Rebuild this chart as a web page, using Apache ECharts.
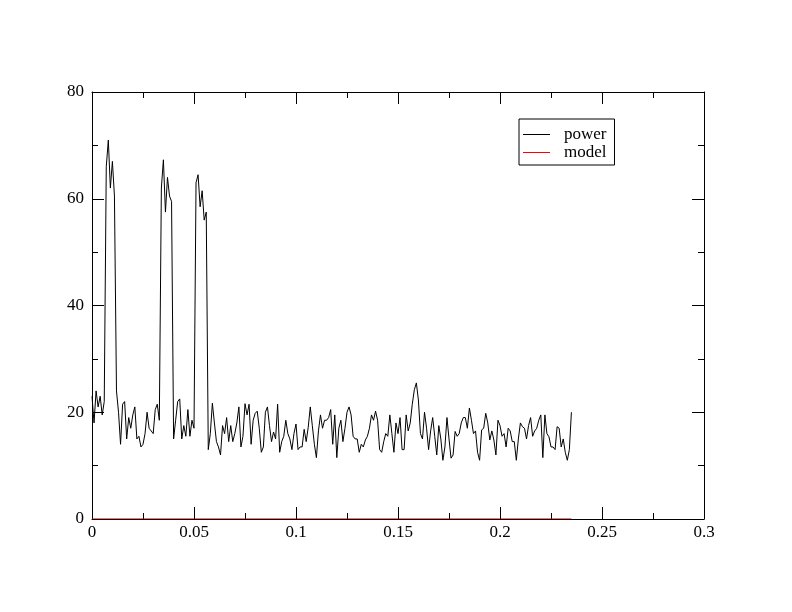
<!DOCTYPE html>
<html>
<head>
<meta charset="utf-8">
<script src="https://cdn.jsdelivr.net/npm/echarts@6/dist/echarts.min.js"></script>
<style>html,body{margin:0;padding:0;background:#fff}#c{width:792px;height:612px}</style>
</head>
<body>
<div id="c"></div>
<script>
// frequency grid step of the power spectrum
const freqStep = 0.001;
// power values, one per frequency step from 0 to 0.235
const powerValues = [
  23, 18, 24, 21, 23, 19.5, 22,
  66, 71, 62, 67, 60.5, 24,
  20, 14, 21.5, 22, 15, 19, 17, 19.5, 21, 15, 15.5, 13.5, 14, 16, 20, 17,
  16.5, 16, 20.5, 21.5, 18.5,
  62, 67.3, 57.5, 64, 60.5, 59.5,
  15, 18.5, 22, 22.5, 15, 17.5, 15.5, 20.5, 15.5, 18.5, 17,
  63, 64.5, 58.5, 61.5, 56, 57.5,
  13, 16, 21.7, 18, 14.5, 13.5, 12, 17.5, 16, 19, 14.5, 17.5, 14.5, 16, 18, 21, 13.5, 15.5, 21.6, 19.5, 21.5, 14, 18.5, 19.8, 20.2, 17, 12.5, 13.5, 20,
  21, 17.5, 14.5, 16.3, 15, 21.5, 12.5, 14.5, 15.5, 18.5, 16, 15, 13, 16, 17.8, 13, 13.5, 13.5, 16.8, 14.5, 17.2, 21, 17.5, 14, 11.5, 16.5, 19.5, 17, 18.5,
  18.5, 19, 20.5, 14, 19.5, 11.5, 17, 18.5, 14.5, 17, 20, 21, 19.5, 15.5, 15, 15, 12.5, 14, 13.5, 14.8, 15.5, 17, 19.5, 18.5, 20.2, 18.5, 13, 12.5, 14.5, 16,
  15.5, 19.5, 16, 12.5, 18, 16, 19, 13, 13, 19.5, 16.5, 18, 21.5, 24.2, 25.5, 22.3, 16, 15, 20, 17, 13, 16.5, 19, 15.5, 12, 17.5, 15, 11,
  13.5, 19, 15, 11.4, 12, 16.4, 15.5, 16, 18, 19, 19, 17, 20.8, 18.5, 16, 16.5, 12.5, 11, 16.7, 17, 19.8, 18, 14.8, 16.5, 14.8, 12, 18.5, 17.5, 15.5, 16,
  13.5, 17, 16.5, 14.5, 14.5, 11, 15, 18, 17.3, 17, 15, 17.5, 19, 15.5, 16.5, 17, 18.5, 19.5, 11.5, 19.5, 16, 15.4, 13.5, 13.5, 13, 17.3, 17, 13.5, 15, 12.5, 11, 13, 20
];
// model line (flat at zero across the data range)
const modelX = [0, 0.235];
const modelY = [0, 0];
// axis ranges / ticks
const xMin = 0, xMax = 0.3, xInterval = 0.05;
const yMin = 0, yMax = 80, yInterval = 20;

const powerData = powerValues.map((v, i) => [+(i * freqStep).toFixed(4), v]);
const modelData = modelX.map((x, i) => [x, modelY[i]]);

const font = 'Liberation Serif, Times New Roman, serif';
const axisCommon = {
  axisLine: { show: true, onZero: false, lineStyle: { color: '#000', width: 1 } },
  axisTick: { show: true, inside: true, length: 12, lineStyle: { color: '#000', width: 1 } },
  minorTick: { show: true, splitNumber: 2, length: 6, lineStyle: { color: '#000', width: 1 } },
  splitLine: { show: false },
  minorSplitLine: { show: false }
};

const chart = echarts.init(document.getElementById('c'), null, { renderer: 'canvas' });
chart.setOption({
  animation: false,
  backgroundColor: '#fff',
  grid: { left: 92, right: 88, top: 92, bottom: 93, containLabel: false },
  xAxis: [
    Object.assign({
      type: 'value', min: xMin, max: xMax, interval: xInterval, position: 'bottom',
      axisLabel: { color: '#000', fontFamily: font, fontSize: 17, margin: 5,
        formatter: v => String(+v.toFixed(3)) }
    }, axisCommon),
    Object.assign({
      type: 'value', min: xMin, max: xMax, interval: xInterval, position: 'top',
      axisLabel: { show: false }
    }, axisCommon)
  ],
  yAxis: [
    Object.assign({
      type: 'value', min: yMin, max: yMax, interval: yInterval, position: 'left',
      axisLabel: { color: '#000', fontFamily: font, fontSize: 17, margin: 8 }
    }, axisCommon),
    Object.assign({
      type: 'value', min: yMin, max: yMax, interval: yInterval, position: 'right',
      axisLabel: { show: false }
    }, axisCommon)
  ],
  legend: {
    orient: 'vertical', left: 519, top: 119,
    padding: [7, 8, 4, 4], itemGap: 1,
    itemWidth: 27, itemHeight: 1,
    icon: 'rect',
    borderColor: '#000', borderWidth: 1, backgroundColor: '#fff',
    textStyle: { color: '#000', fontFamily: font, fontSize: 17, lineHeight: 17, padding: [0, 0, 0, 9] },
    data: ['power', 'model']
  },
  series: [
    { name: 'power', type: 'line', data: powerData, symbol: 'none', showSymbol: false,
      lineStyle: { color: '#000', width: 1 }, itemStyle: { color: '#000' }, z: 3 },
    { name: 'model', type: 'line', data: modelData, symbol: 'none', showSymbol: false,
      lineStyle: { color: '#b00000', width: 1 }, itemStyle: { color: '#ff0000' }, z: 4 }
  ]
});
</script>
</body>
</html>
